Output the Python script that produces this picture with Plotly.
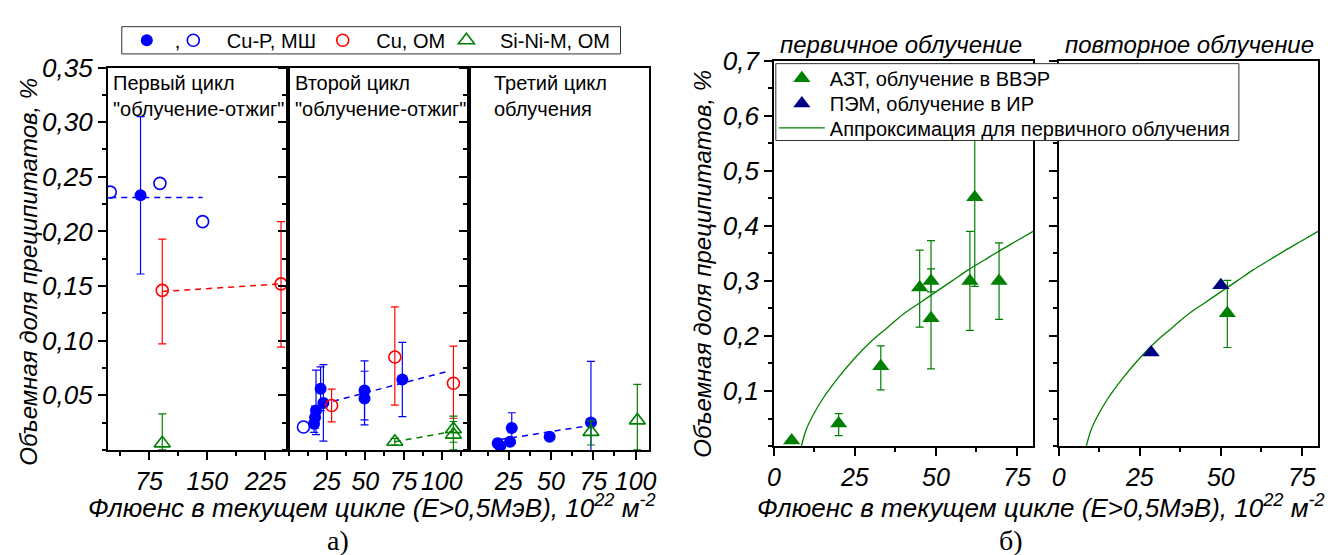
import plotly.graph_objects as go

W, H = 1331, 555
BLUE, RED, GREEN, NAVY = "#0000FF", "#FF0000", "#008000", "#000080"
FONT = "Liberation Sans, Arial, sans-serif"

# ---------------- Left chart (a) ----------------
# Panel 1: first cycle "irradiation-annealing"
p1_bf_x = [64]; p1_bf_y = [0.233]; p1_bf_ep = [0.072]; p1_bf_em = [0.072]
p1_bo_x = [25, 89, 144]; p1_bo_y = [0.236, 0.244, 0.209]
p1_r_x = [92, 245]; p1_r_y = [0.146, 0.152]; p1_r_ep = [0.047, 0.057]; p1_r_em = [0.049, 0.058]
p1_g_x = [92]; p1_g_y = [0.006]; p1_g_ep = [0.027]; p1_g_em = [0.006]
p1_bfit_x = [25, 144]; p1_bfit_y = [0.231, 0.231]
p1_rfit_x = [92, 245]; p1_rfit_y = [0.145, 0.152]

# Panel 2: second cycle
p2_bo_x = [9.6]; p2_bo_y = [0.021]
p2_bf_x = [16.5, 17.2, 17.8, 20.8, 22.6, 49.5, 49.5, 74.2]
p2_bf_y = [0.024, 0.030, 0.036, 0.056, 0.043, 0.0545, 0.047, 0.0645]
p2_bf_ep = [0.008, 0.010, 0.037, 0.020, 0.035, 0.027, 0.025, 0.034]
p2_bf_em = [0.008, 0.010, 0.022, 0.020, 0.035, 0.027, 0.024, 0.034]
p2_r_x = [28, 69.3, 107.6]; p2_r_y = [0.0407, 0.085, 0.061]
p2_r_ep = [0.015, 0.046, 0.034]; p2_r_em = [0.015, 0.044, 0.032]
p2_g_x = [69.3, 107.6, 107.6]; p2_g_y = [0.0075, 0.019, 0.014]
p2_g_ep = [0.003, 0.012, 0.012]; p2_g_em = [0.003, 0.012, 0.014]
p2_bfit_x = [22, 104]; p2_bfit_y = [0.042, 0.072]
p2_gfit_x = [69.3, 107.6]; p2_gfit_y = [0.0075, 0.017]

# Panel 3: third cycle
p3_bf_x = [18.5, 20, 25.8, 26.8, 49.2, 73.6]
p3_bf_y = [0.006, 0.0035, 0.0075, 0.020, 0.012, 0.025]
p3_bf_ep = [0.004, 0.0, 0.0, 0.014, 0.0, 0.056]
p3_bf_em = [0.004, 0.0, 0.0, 0.014, 0.0, 0.03]
p3_g_x = [73.6, 101]; p3_g_y = [0.0165, 0.027]
p3_g_ep = [0.010, 0.033]; p3_g_em = [0.012, 0.027]
p3_bfit_x = [20, 73.6]; p3_bfit_y = [0.0095, 0.0225]

left_ytick_vals = [0.05, 0.10, 0.15, 0.20, 0.25, 0.30, 0.35]
left_ytick_text = ["0,05", "0,10", "0,15", "0,20", "0,25", "0,30", "0,35"]
p1_xtick_vals = [75, 150, 225]
p23_xtick_vals = [25, 50, 75, 100]

# ---------------- Right chart (б) ----------------
r1_g_x = [5.5, 20, 33, 45, 48.5, 48.5, 60.5, 62, 69.5]
r1_g_y = [0.010, 0.041, 0.145, 0.288, 0.300, 0.232, 0.300, 0.452, 0.300]
r1_g_ep = [0.0, 0.018, 0.037, 0.068, 0.073, 0.090, 0.090, 0.160, 0.069]
r1_g_em = [0.0, 0.022, 0.043, 0.072, 0.020, 0.092, 0.090, 0.162, 0.070]
r2_n_x = [28.5, 50]; r2_n_y = [0.170, 0.292]
r2_g_x = [52]; r2_g_y = [0.241]; r2_g_ep = [0.060]; r2_g_em = [0.062]
fit_x = [8.5, 10, 12, 15, 20, 25, 30, 35, 40, 45, 50, 55, 60, 65, 70, 75, 80]
fit_y = [0.0, 0.03, 0.055, 0.085, 0.125, 0.16, 0.19, 0.215, 0.24, 0.26, 0.28,
         0.30, 0.32, 0.338, 0.356, 0.373, 0.39]
right_ytick_vals = [0.1, 0.2, 0.3, 0.4, 0.5, 0.6, 0.7]
right_ytick_text = ["0,1", "0,2", "0,3", "0,4", "0,5", "0,6", "0,7"]
right_xtick_vals = [0, 25, 50, 75]

fig = go.Figure()


def line(x, y, color, xa, ya, dash="6px,5px", width=1.5, shape="linear", **kw):
    fig.add_trace(go.Scatter(x=x, y=y, mode="lines", xaxis=xa, yaxis=ya,
                             line=dict(color=color, width=width, dash=dash, shape=shape),
                             hoverinfo="skip", **kw))


def pts(x, y, color, xa, ya, symbol="circle", filled=True, size=12,
        ep=None, em=None, name=None, legend="legend", showlegend=False):
    if filled:
        marker = dict(symbol=symbol, size=size, color=color, line=dict(width=0))
    else:
        marker = dict(symbol=symbol, size=size, color="rgba(255,255,255,0)",
                      line=dict(color=color, width=1.6))
    err = None
    if ep is not None:
        err = dict(type="data", symmetric=False, array=ep, arrayminus=em,
                   color=color, thickness=1.2, width=4)
    fig.add_trace(go.Scatter(x=x, y=y, mode="markers", xaxis=xa, yaxis=ya,
                             marker=marker, error_y=err, name=name,
                             legend=legend, showlegend=showlegend))


NB = "&nbsp;"

# Left chart traces
line(p1_bfit_x, p1_bfit_y, BLUE, "x", "y", showlegend=False)
line(p1_rfit_x, p1_rfit_y, RED, "x", "y", showlegend=False)
line(p2_bfit_x, p2_bfit_y, BLUE, "x2", "y2", showlegend=False)
line(p2_gfit_x, p2_gfit_y, GREEN, "x2", "y2", showlegend=False)
line(p3_bfit_x, p3_bfit_y, BLUE, "x3", "y3", showlegend=False)

pts(p1_bf_x, p1_bf_y, BLUE, "x", "y", ep=p1_bf_ep, em=p1_bf_em,
    name=",", legend="legend", showlegend=True)
pts(p1_bo_x, p1_bo_y, BLUE, "x", "y", filled=False, size=12,
    name=NB + "Cu-P, МШ", legend="legend2", showlegend=True)
pts(p1_r_x, p1_r_y, RED, "x", "y", filled=False, ep=p1_r_ep, em=p1_r_em,
    name=NB + "Cu, ОМ", legend="legend3", showlegend=True)
pts(p1_g_x, p1_g_y, GREEN, "x", "y", symbol="triangle-up", filled=False, size=14,
    ep=p1_g_ep, em=p1_g_em, name=NB + "Si-Ni-M, ОМ", legend="legend4", showlegend=True)

pts(p2_bo_x, p2_bo_y, BLUE, "x2", "y2", filled=False)
pts(p2_bf_x, p2_bf_y, BLUE, "x2", "y2", ep=p2_bf_ep, em=p2_bf_em)
pts(p2_r_x, p2_r_y, RED, "x2", "y2", filled=False, ep=p2_r_ep, em=p2_r_em)
pts(p2_g_x, p2_g_y, GREEN, "x2", "y2", symbol="triangle-up", filled=False, size=14,
    ep=p2_g_ep, em=p2_g_em)

pts(p3_bf_x, p3_bf_y, BLUE, "x3", "y3", ep=p3_bf_ep, em=p3_bf_em)
pts(p3_g_x, p3_g_y, GREEN, "x3", "y3", symbol="triangle-up", filled=False, size=14,
    ep=p3_g_ep, em=p3_g_em)

# Right chart traces
pts(r1_g_x, r1_g_y, GREEN, "x4", "y4", symbol="triangle-up", size=15,
    ep=r1_g_ep, em=r1_g_em, name="АЗТ, облучение в ВВЭР", legend="legend5",
    showlegend=True)
line(fit_x, fit_y, GREEN, "x4", "y4", dash="solid", width=1.3, shape="spline",
     name="Аппроксимация для первичного облучения", legend="legend7",
     showlegend=True)
line(fit_x, fit_y, GREEN, "x5", "y5", dash="solid", width=1.3, shape="spline",
     showlegend=False)
pts(r2_g_x, r2_g_y, GREEN, "x5", "y5", symbol="triangle-up", size=15,
    ep=r2_g_ep, em=r2_g_em)
pts(r2_n_x, r2_n_y, NAVY, "x5", "y5", symbol="triangle-up", size=15,
    name="ПЭМ, облучение в ИР", legend="legend6", showlegend=True)


def px(x):
    return x / W


def py(y):
    return 1 - y / H


def tickfont(size):
    return dict(family=FONT, size=size, style="italic", color="black")


def xax(d0, d1, anchor, rng, vals, minor_dtick, lw):
    return dict(domain=[px(d0), px(d1)], anchor=anchor, range=rng,
                tickmode="array", tickvals=vals, ticktext=[str(v) for v in vals],
                ticks="outside", ticklen=8, tickwidth=1.5, tickcolor="black",
                showline=True, linecolor="black", linewidth=lw, mirror=True,
                showgrid=False, zeroline=False, tickfont=tickfont(25),
                minor=dict(ticks="outside", ticklen=4, tickwidth=1.5,
                           tickcolor="black", dtick=minor_dtick, tick0=0,
                           showgrid=False))


def yax(d0, d1, anchor, rng, vals, text, minor_dtick, lw, labels):
    return dict(domain=[py(d1), py(d0)], anchor=anchor, range=rng,
                tickmode="array", tickvals=vals, ticktext=text,
                showticklabels=labels,
                ticks="outside", ticklen=8, tickwidth=1.5, tickcolor="black",
                showline=True, linecolor="black", linewidth=lw, mirror=True,
                showgrid=False, zeroline=False, tickfont=tickfont(26),
                minor=dict(ticks="outside", ticklen=4, tickwidth=1.5,
                           tickcolor="black", dtick=minor_dtick, tick0=0,
                           showgrid=False))


def leg(x, ycenter, size=20, iw=46):
    return dict(orientation="v", x=px(x), y=py(ycenter), xanchor="left",
                yanchor="middle", font=dict(family=FONT, size=size, color="black"),
                borderwidth=0, bgcolor="rgba(0,0,0,0)", itemwidth=iw,
                tracegroupgap=0)


L_TOP, L_BOT = 54, 447
R_TOP, R_BOT = 47, 443

layout = dict(
    width=W, height=H, margin=dict(l=0, r=0, t=0, b=0),
    paper_bgcolor="white", plot_bgcolor="white",
    font=dict(family=FONT, color="black"),
    xaxis=xax(102, 284, "y", [22, 254], p1_xtick_vals, 37.5, 2),
    xaxis2=xax(284, 466.5, "y2", [-0.5, 117.5], p23_xtick_vals, 12.5, 2),
    xaxis3=xax(466.5, 649, "y3", [1.3, 108], p23_xtick_vals, 12.5, 2),
    xaxis4=xax(775, 1037, "y4", [0, 80], right_xtick_vals, 12.5, 1.5),
    xaxis5=xax(1063, 1325, "y5", [0, 80], right_xtick_vals, 12.5, 1.5),
    yaxis=yax(L_TOP, L_BOT, "x", [0, 0.35], left_ytick_vals, left_ytick_text, 0.025, 2, True),
    yaxis2=yax(L_TOP, L_BOT, "x2", [0, 0.35], left_ytick_vals, left_ytick_text, 0.025, 2, False),
    yaxis3=yax(L_TOP, L_BOT, "x3", [0, 0.35], left_ytick_vals, left_ytick_text, 0.025, 2, False),
    yaxis4=yax(R_TOP, R_BOT, "x4", [0, 0.7], right_ytick_vals, right_ytick_text, 0.05, 1.5, True),
    yaxis5=yax(R_TOP, R_BOT, "x5", [0, 0.7], right_ytick_vals, right_ytick_text, 0.05, 1.5, False),
    # top legend of chart (a): one entry per legend so each sits where the reference has it
    legend=leg(113, 26),
    legend2=leg(160, 26),
    legend3=leg(311, 26),
    legend4=leg(436, 26),
    # legend of chart (б)
    legend5=leg(775, 65),
    legend6=leg(775, 91),
    legend7=leg(775, 116),
    showlegend=True,
    shapes=[
        dict(type="rect", xref="paper", yref="paper", x0=px(116), x1=px(620),
             y0=py(40), y1=py(12), line=dict(color="#333", width=1),
             fillcolor="white", layer="above"),
        dict(type="rect", xref="paper", yref="paper", x0=px(777), x1=px(1245),
             y0=py(129), y1=py(50), line=dict(color="#333", width=1),
             fillcolor="white", layer="above"),
    ],
)
fig.update_layout(**layout)

ann = []


def text(x, y, s, size=20, xanchor="left", yanchor="top", italic=False,
         angle=0, family=FONT, align="left"):
    ann.append(dict(x=px(x), y=py(y), xref="paper", yref="paper", text=s,
                    showarrow=False, xanchor=xanchor, yanchor=yanchor,
                    textangle=angle, align=align,
                    font=dict(family=family, size=size, color="black",
                              style="italic" if italic else "normal")))


text(105, 57, "Первый цикл<br>\"облучение-отжиг\"")
text(289, 57, "Второй цикл<br>\"облучение-отжиг\"")
text(490, 57, "Третий цикл<br>облучения")
text(903, 46, "первичное облучение", size=24, xanchor="center", yanchor="bottom", italic=True)
text(1195, 46, "повторное облучение", size=24, xanchor="center", yanchor="bottom", italic=True)
text(22, 264, "Объемная доля преципитатов, %", size=24, xanchor="center",
     yanchor="middle", italic=True, angle=-90)
text(702, 256, "Объемная доля преципитатов, %", size=24, xanchor="center",
     yanchor="middle", italic=True, angle=-90)
XT = "Флюенс в текущем цикле (E>0,5МэВ), 10<sup>22</sup> м<sup>-2</sup>"
text(369, 505, XT, size=26, xanchor="center", yanchor="middle", italic=True)
text(1045, 505, XT, size=26, xanchor="center", yanchor="middle", italic=True)
text(335, 540, "а)", size=28, xanchor="center", yanchor="middle",
     family="Liberation Serif, Times New Roman, serif")
text(1015, 540, "б)", size=28, xanchor="center", yanchor="middle",
     family="Liberation Serif, Times New Roman, serif")

fig.update_layout(annotations=ann)
fig.write_html("out.html")
